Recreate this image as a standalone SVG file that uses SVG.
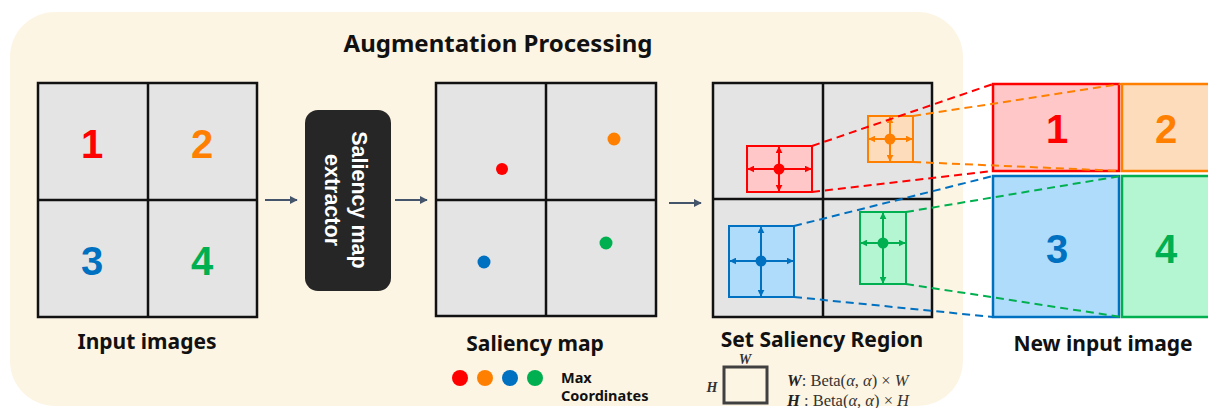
<svg xmlns="http://www.w3.org/2000/svg" width="1208" height="408" viewBox="0 0 1208 408">
<defs>
<style>
.bg{fill:#fdf5e4}
.grid{fill:#e4e4e4;stroke:#111;stroke-width:2.5}
.gl{stroke:#111;stroke-width:2.5}
.lbl{font-family:"Noto Sans","Open Sans",sans-serif;font-weight:700;font-size:21px;fill:#111;text-anchor:middle}
.num{font-family:"Liberation Sans",Arial,sans-serif;font-weight:700;font-size:40px;text-anchor:middle}
.flow{stroke:#44546a;stroke-width:2;fill:none}
.dash{fill:none;stroke-width:2;stroke-dasharray:8 5}
.ser{font-family:"Liberation Serif","Times New Roman",serif;font-size:16.5px;fill:#333}
</style>
<marker id="fa" viewBox="0 0 10 10" refX="9" refY="5" markerWidth="4" markerHeight="4" orient="auto"><path d="M0,0L10,5L0,10z" fill="#44546a"/></marker>
<marker id="ar" viewBox="0 0 10 10" refX="9" refY="5" markerWidth="3.5" markerHeight="3.5" orient="auto"><path d="M0,0L10,5L0,10z" fill="#ff0000"/></marker>
<marker id="ao" viewBox="0 0 10 10" refX="9" refY="5" markerWidth="3.5" markerHeight="3.5" orient="auto"><path d="M0,0L10,5L0,10z" fill="#ff8000"/></marker>
<marker id="ab" viewBox="0 0 10 10" refX="9" refY="5" markerWidth="3.5" markerHeight="3.5" orient="auto"><path d="M0,0L10,5L0,10z" fill="#0070c0"/></marker>
<marker id="ag" viewBox="0 0 10 10" refX="9" refY="5" markerWidth="3.5" markerHeight="3.5" orient="auto"><path d="M0,0L10,5L0,10z" fill="#00b050"/></marker>
</defs>

<g id="background">
<rect class="bg" x="10" y="12" width="953" height="394" rx="45"/>
<text class="lbl" x="498" y="52" style="font-size:24px">Augmentation Processing</text>
</g>

<g id="input-images">
<rect class="grid" x="38" y="83" width="219" height="234"/>
<line class="gl" x1="148" y1="83" x2="148" y2="317"/>
<line class="gl" x1="38" y1="200" x2="257" y2="200"/>
<text class="num" x="92" y="158" fill="#ff0000">1</text>
<text class="num" x="202" y="158" fill="#ff8000">2</text>
<text class="num" x="92" y="275" fill="#0070c0">3</text>
<text class="num" x="202" y="275" fill="#00b050">4</text>
<text class="lbl" x="147" y="349">Input images</text>
</g>

<g id="extractor">
<rect x="305" y="110" width="86" height="181" rx="13" fill="#262626"/>
<g transform="translate(348,200) rotate(90)" font-family="Liberation Sans, Arial, sans-serif" font-weight="700" font-size="21.5" fill="#fff" text-anchor="middle">
<text x="0" y="-4">Saliency map</text>
<text x="0" y="23">extractor</text>
</g>
</g>

<g id="saliency-map">
<rect class="grid" x="436" y="83" width="220" height="233"/>
<line class="gl" x1="546" y1="83" x2="546" y2="316"/>
<line class="gl" x1="436" y1="200" x2="656" y2="200"/>
<circle cx="502" cy="169" r="6" fill="#ff0000"/>
<circle cx="614" cy="139" r="6.5" fill="#ff8000"/>
<circle cx="484" cy="262" r="6.5" fill="#0070c0"/>
<circle cx="606" cy="243" r="6.5" fill="#00b050"/>
<text class="lbl" x="535" y="351">Saliency map</text>
</g>

<g id="legend-max">
<circle cx="460" cy="378" r="8" fill="#ff0000"/>
<circle cx="485" cy="378" r="8" fill="#ff8000"/>
<circle cx="510" cy="378" r="8" fill="#0070c0"/>
<circle cx="535" cy="378" r="8" fill="#00b050"/>
<g font-family="Noto Sans, Open Sans, sans-serif" font-weight="700" font-size="14.5" fill="#111">
<text x="561" y="383">Max</text>
<text x="561" y="401">Coordinates</text>
</g>
</g>

<g id="saliency-region">
<rect class="grid" x="713" y="83" width="219" height="234"/>
<line class="gl" x1="823" y1="83" x2="823" y2="317"/>
<line class="gl" x1="713" y1="199" x2="932" y2="199"/>
<text class="lbl" x="822" y="347">Set Saliency Region</text>
</g>

<g id="region-red">
<rect x="747" y="146" width="65" height="46" fill="#ffc7c7" stroke="#ff0000" stroke-width="2"/>
<g stroke="#ff0000" stroke-width="2" marker-end="url(#ar)">
<line x1="779" y1="169" x2="811" y2="169"/><line x1="779" y1="169" x2="748" y2="169"/>
<line x1="779" y1="169" x2="779" y2="147"/><line x1="779" y1="169" x2="779" y2="191"/>
</g>
<circle cx="779" cy="169" r="5.5" fill="#ff0000"/>
</g>

<g id="region-orange">
<rect x="868" y="116" width="45" height="46" fill="#fddcbb" stroke="#ff8000" stroke-width="2"/>
<g stroke="#ff8000" stroke-width="2" marker-end="url(#ao)">
<line x1="890" y1="139" x2="912" y2="139"/><line x1="890" y1="139" x2="869" y2="139"/>
<line x1="890" y1="139" x2="890" y2="117"/><line x1="890" y1="139" x2="890" y2="161"/>
</g>
<circle cx="890" cy="139" r="5.5" fill="#ff8000"/>
</g>

<g id="region-blue">
<rect x="729" y="226" width="65" height="71" fill="#b0dcfb" stroke="#0070c0" stroke-width="2"/>
<g stroke="#0070c0" stroke-width="2" marker-end="url(#ab)">
<line x1="761" y1="261" x2="793" y2="261"/><line x1="761" y1="261" x2="730" y2="261"/>
<line x1="761" y1="261" x2="761" y2="227"/><line x1="761" y1="261" x2="761" y2="296"/>
</g>
<circle cx="761" cy="261" r="5.5" fill="#0070c0"/>
</g>

<g id="region-green">
<rect x="860" y="212" width="46" height="72" fill="#b4f6d2" stroke="#00b050" stroke-width="2"/>
<g stroke="#00b050" stroke-width="2" marker-end="url(#ag)">
<line x1="883" y1="243" x2="905" y2="243"/><line x1="883" y1="243" x2="861" y2="243"/>
<line x1="883" y1="243" x2="883" y2="213"/><line x1="883" y1="243" x2="883" y2="283"/>
</g>
<circle cx="883" cy="243" r="5.5" fill="#00b050"/>
</g>

<g id="size-legend">
<rect x="724" y="367" width="43" height="36" fill="none" stroke="#404040" stroke-width="3"/>
<text class="ser" x="745" y="364" text-anchor="middle" font-weight="700" font-style="italic" fill="#222" style="font-size:14px">W</text>
<text class="ser" x="712" y="392" text-anchor="middle" font-weight="700" font-style="italic" fill="#222" style="font-size:14px">H</text>
<text class="ser" x="787" y="386"><tspan font-weight="700" font-style="italic" fill="#222">W</tspan>: Beta(<tspan font-style="italic">α</tspan>, <tspan font-style="italic">α</tspan>)  × <tspan font-style="italic">W</tspan></text>
<text class="ser" x="787" y="406"><tspan font-weight="700" font-style="italic" fill="#222">H</tspan> : Beta(<tspan font-style="italic">α</tspan>, <tspan font-style="italic">α</tspan>)  × <tspan font-style="italic">H</tspan></text>
</g>

<g id="new-input-image">
<rect x="993" y="84" width="126" height="87" fill="#ffc7c7" stroke="#ff0000" stroke-width="2.5"/>
<rect x="1122" y="84" width="95" height="87" fill="#fddcbb" stroke="#ff8000" stroke-width="2.5"/>
<rect x="993" y="176" width="126" height="141" fill="#b0dcfb" stroke="#0070c0" stroke-width="2.5"/>
<rect x="1122" y="176" width="95" height="141" fill="#b4f6d2" stroke="#00b050" stroke-width="2.5"/>
<text class="num" x="1057" y="143" fill="#ff0000">1</text>
<text class="num" x="1166" y="143" fill="#ff8000">2</text>
<text class="num" x="1057" y="263" fill="#0070c0">3</text>
<text class="num" x="1166" y="263" fill="#00b050">4</text>
<text class="lbl" x="1103" y="351">New input image</text>
</g>

<g id="connectors">
<line class="flow" x1="265" y1="200" x2="297" y2="200" marker-end="url(#fa)"/>
<line class="flow" x1="395" y1="200" x2="427" y2="200" marker-end="url(#fa)"/>
<line class="flow" x1="669" y1="203" x2="701" y2="203" marker-end="url(#fa)"/>
<line class="dash" stroke="#ff0000" x1="812" y1="146" x2="993" y2="84"/>
<line class="dash" stroke="#ff0000" x1="812" y1="192" x2="993" y2="171"/>
<line class="dash" stroke="#ff8000" x1="913" y1="116" x2="1121" y2="84"/>
<line class="dash" stroke="#ff8000" x1="913" y1="162" x2="1121" y2="171"/>
<line class="dash" stroke="#0070c0" x1="794" y1="226" x2="993" y2="176"/>
<line class="dash" stroke="#0070c0" x1="794" y1="297" x2="993" y2="317"/>
<line class="dash" stroke="#00b050" x1="906" y1="212" x2="1121" y2="176"/>
<line class="dash" stroke="#00b050" x1="906" y1="284" x2="1121" y2="317"/>
</g>
</svg>
